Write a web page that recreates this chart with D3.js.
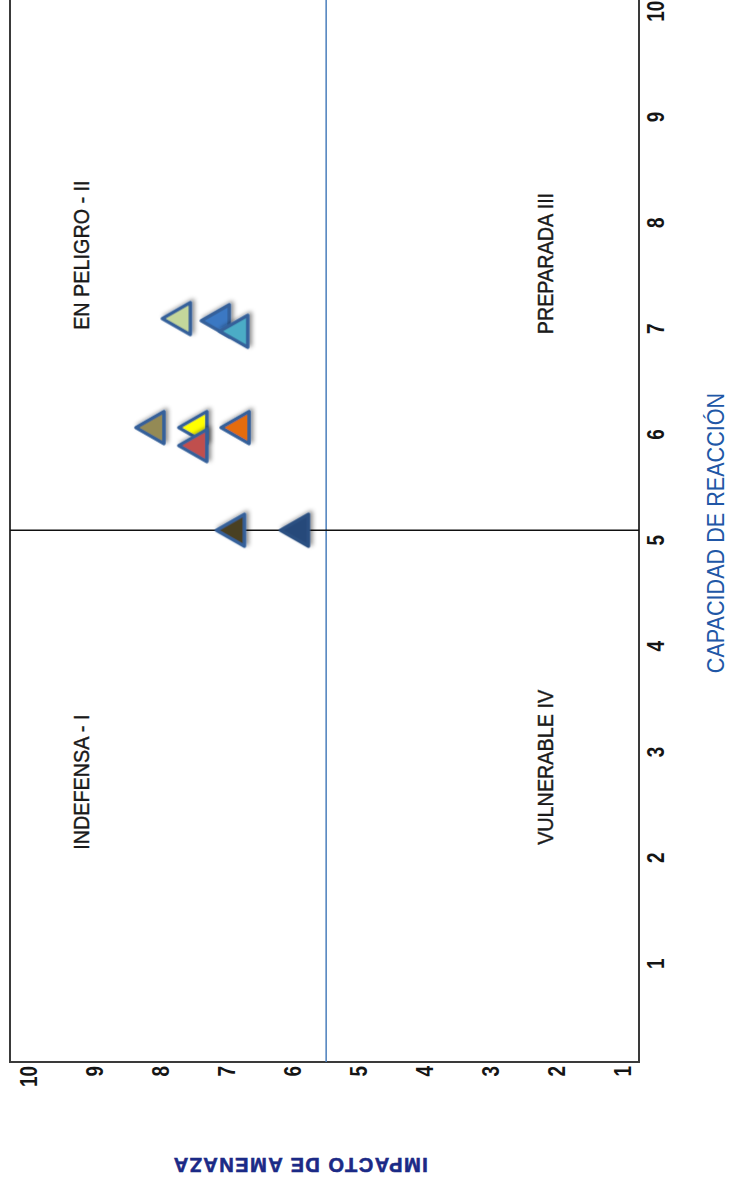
<!DOCTYPE html>
<html>
<head>
<meta charset="utf-8">
<script src="https://cdn.jsdelivr.net/npm/d3@7"></script>
<style>
  body { margin: 0; background: #fff; }
  svg { display: block; }
</style>
</head>
<body>
<svg id="chart" width="752" height="1195"></svg>
<script>
// Capacidad de reacción (x) e impacto de amenaza (y) de cada elemento evaluado
const capacidad = [7.1, 7.08, 6.98, 6.07, 6.07, 5.9, 6.07, 5.1, 5.1];
const impacto   = [7.77, 7.18, 6.9, 8.17, 7.52, 7.52, 6.88, 6.95, 5.98];
const rellenos  = ["#c4d79b", "#3a78c3", "#4bacc6", "#948a54", "#ffff00",
                   "#c0504d", "#e46c0a", "#4a3f22", "#284a7a"];
const bordes    = ["#35609a", "#35609a", "#35609a", "#35609a", "#35609a",
                   "#35609a", "#35609a", "#35609a", "#2c5081"];

// Marcas de los ejes
const ticksCapacidad = [1, 2, 3, 4, 5, 6, 7, 8, 9, 10];
const ticksImpacto   = [1, 2, 3, 4, 5, 6, 7, 8, 9, 10];

// Líneas de corte que separan los cuadrantes
const corteCapacidad = 5.1;
const corteImpacto = 5.5;

// Nombres de los cuadrantes y su posición en unidades de los ejes
const cuadrantes = ["INDEFENSA - I", "EN PELIGRO - II", "PREPARADA III", "VULNERABLE IV"];
const cuadranteCapacidad = [2.72, 7.7, 7.62, 2.86];
const cuadranteImpacto   = [9.22, 9.22, 2.18, 2.18];

// The chart is laid out landscape (W x H) and then turned a quarter turn
// counter-clockwise to fill the portrait page.
const W = 1195, H = 752;
const plot = { left: 133, right: 1196, top: 10, bottom: 639 };

const svg = d3.select("#chart");
const defs = svg.append("defs");
const sombra = defs.append("filter").attr("id", "sombra")
  .attr("x", "-50%").attr("y", "-50%").attr("width", "200%").attr("height", "200%");
sombra.append("feDropShadow")
  .attr("dx", 2).attr("dy", 2.5).attr("stdDeviation", 2)
  .attr("flood-color", "#000").attr("flood-opacity", 0.45);

const g = svg.append("g").attr("transform", `translate(0,${W}) rotate(-90)`);

const x = d3.scaleLinear().domain([0.076, 10.12]).range([plot.left, plot.right]);
const y = d3.scaleLinear().domain([0.76, 10.29]).range([plot.bottom, plot.top]);

const fontFam = "'Liberation Sans', Arial, sans-serif";

// Plot frame
g.append("rect")
  .attr("x", plot.left).attr("y", plot.top)
  .attr("width", plot.right - plot.left).attr("height", plot.bottom - plot.top)
  .attr("fill", "#fff").attr("stroke", "#3a3a3a").attr("stroke-width", 2);

// Quadrant dividers
g.append("line")
  .attr("x1", plot.left).attr("x2", plot.right)
  .attr("y1", y(corteImpacto)).attr("y2", y(corteImpacto))
  .attr("stroke", "#4a7ebb").attr("stroke-width", 1.5);
g.append("line")
  .attr("x1", x(corteCapacidad)).attr("x2", x(corteCapacidad))
  .attr("y1", plot.top).attr("y2", plot.bottom)
  .attr("stroke", "#111").attr("stroke-width", 1.5);

// Axes (labels only)
const xAxis = g.append("g").attr("transform", `translate(0,${plot.bottom})`)
  .call(d3.axisBottom(x).tickValues(ticksCapacidad).tickSize(0).tickPadding(9));
const yAxis = g.append("g").attr("transform", `translate(${plot.left},0)`)
  .call(d3.axisLeft(y).tickValues(ticksImpacto).tickSize(0).tickPadding(5));
[xAxis, yAxis].forEach(a => {
  a.select(".domain").remove();
  a.selectAll("text")
    .attr("font-family", fontFam).attr("font-size", 23).attr("font-weight", "bold")
    .attr("fill", "#151515").attr("transform", "scale(0.82,1)");
});

// Quadrant names
g.append("g").selectAll("text").data(cuadrantes).join("text")
  .attr("transform", (d, i) => `translate(${x(cuadranteCapacidad[i])},${y(cuadranteImpacto[i])}) scale(0.9,1)`)
  .attr("text-anchor", "middle").attr("dominant-baseline", "central")
  .attr("font-family", fontFam).attr("font-size", 22)
  .attr("fill", "#1a1a1a").attr("stroke", "#1a1a1a").attr("stroke-width", 0.4)
  .text(d => d);

// Markers: upward triangles centred on their bounding box
const side = 32, tall = 28;
const tri = `M0,${-tall / 2}L${side / 2},${tall / 2}L${-side / 2},${tall / 2}Z`;
g.append("g").selectAll("path").data(capacidad).join("path")
  .attr("d", tri)
  .attr("transform", (d, i) => `translate(${x(d)},${y(impacto[i])})`)
  .attr("fill", (d, i) => rellenos[i])
  .attr("stroke", (d, i) => bordes[i])
  .attr("stroke-width", 3.5)
  .attr("stroke-linejoin", "round")
  .attr("filter", "url(#sombra)");

// Axis titles
g.append("text")
  .attr("transform", `translate(${662},${716}) scale(0.9,1)`)
  .attr("text-anchor", "middle").attr("dominant-baseline", "central")
  .attr("font-family", fontFam).attr("font-size", 24)
  .attr("fill", "#2157a6")
  .text("CAPACIDAD DE REACCIÓN");

g.append("text")
  .attr("transform", `translate(30,${300}) rotate(-90)`)
  .attr("text-anchor", "middle").attr("dominant-baseline", "central")
  .attr("font-family", fontFam).attr("font-size", 20).attr("font-weight", "bold")
  .attr("letter-spacing", 1.5)
  .attr("fill", "#1b2a86").attr("stroke", "#1b2a86").attr("stroke-width", 0.6)
  .text("IMPACTO DE AMENAZA");
</script>
</body>
</html>
